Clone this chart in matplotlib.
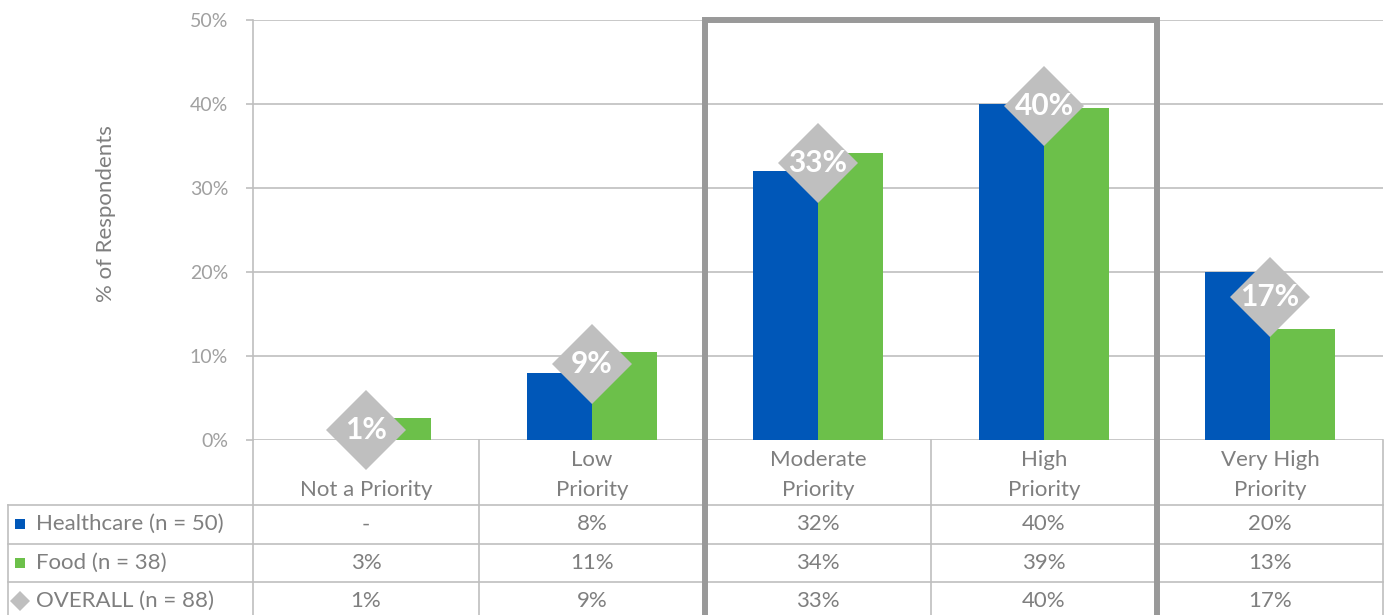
import matplotlib.pyplot as plt
from matplotlib.transforms import blended_transform_factory

plt.rcParams['font.family'] = ['Lato', 'DejaVu Sans']

# Priority levels and shares of respondents (%)
categories = ['Not a Priority', 'Low\nPriority', 'Moderate\nPriority', 'High\nPriority', 'Very High\nPriority']
healthcare = [0.0, 8.0, 32.0, 40.0, 20.0]
food = [2.63, 10.53, 34.21, 39.47, 13.16]
overall = [1.14, 9.09, 32.95, 39.77, 17.05]
series_names = ['Healthcare (n = 50)', 'Food (n = 38)', 'OVERALL (n = 88)']
yticks = [0, 10, 20, 30, 40, 50]

BLUE = '#0057B8'
GREEN = '#6CC04A'
DIAMOND = '#BFBFBF'
LINE = '#BFBFBF'
TEXT = '#7F7F7F'


def pct(v):
    return '-' if v == 0 else f'{v:.0f}%'


fig = plt.figure(figsize=(13.91, 6.15), dpi=100)
ax = fig.add_axes([253 / 1391, 175 / 615, 1130 / 1391, 420 / 615])
ax.set_xlim(-0.5, len(categories) - 0.5)
ax.set_ylim(0, 50)

# bars
w = 0.2876
x = list(range(len(categories)))
ax.bar([i - w / 2 for i in x], healthcare, width=w, color=BLUE, zorder=3)
ax.bar([i + w / 2 for i in x], food, width=w, color=GREEN, zorder=3)

# overall diamonds with their labels
ax.plot(x, overall, linestyle='none', marker='D', markersize=41, color=DIAMOND,
        markeredgewidth=0, zorder=4, clip_on=False)
for i, v in zip(x, overall):
    ax.text(i, v, pct(v), ha='center', va='center', color='white',
            fontsize=21.5, fontweight='bold', zorder=5)

# axes styling
ax.set_yticks(yticks)
ax.set_yticklabels([f'{t}%' for t in yticks])
ax.set_xticks([])
ax.tick_params(axis='y', length=5, width=1.2, color=LINE, labelcolor='#A0A0A0',
               labelsize=14, pad=13)
for s in ['top', 'right', 'bottom']:
    ax.spines[s].set_visible(False)
ax.spines['left'].set_color(LINE)
ax.spines['left'].set_linewidth(1.2)
ax.yaxis.grid(True, color=LINE, linewidth=1.2, zorder=0)
ax.set_axisbelow(True)
ax.set_ylabel('% of Respondents', fontsize=16, color=TEXT)
ax.yaxis.set_label_coords(-0.121, 0.54)

# data table below the plot (x in data units, y in axes fraction)
tr = blended_transform_factory(ax.transData, ax.transAxes)
px = 1 / 420
hdr = 65 * px
row = 38.5 * px
left = -0.5 - 245 / 226
n = len(categories)

def hline(x0, x1, y):
    ax.plot([x0, x1], [y, y], color=LINE, lw=1.2, transform=tr, clip_on=False, zorder=1)

def vline(xv, y0, y1):
    ax.plot([xv, xv], [y0, y1], color=LINE, lw=1.2, transform=tr, clip_on=False, zorder=1)

bottom = -hdr - 3 * row - 10 * px
hline(left, n - 0.5, -hdr)
hline(left, n - 0.5, -hdr - row)
hline(left, n - 0.5, -hdr - 2 * row)
vline(left, -hdr, bottom)
for k in range(n + 1):
    vline(k - 0.5, 0, bottom)

for i, c in enumerate(categories):
    ax.text(i, -hdr + 5 * px, c, transform=tr, ha='center', va='bottom',
            fontsize=16, color=TEXT, linespacing=1.6)

rows = [healthcare, food, overall]
keys = [('s', BLUE, 7.2), ('s', GREEN, 7.2), ('D', DIAMOND, 10)]
for r, (vals, name, (mk, col, ms)) in enumerate(zip(rows, series_names, keys)):
    yc = -hdr - row * (r + 0.5)
    ax.plot([left + 12 / 226], [yc], marker=mk, markersize=ms, color=col,
            markeredgewidth=0, transform=tr, clip_on=False)
    ax.text(left + 28 / 226, yc, name, transform=tr, ha='left', va='center',
            fontsize=16, color=TEXT)
    for i, v in enumerate(vals):
        ax.text(i, yc, pct(v), transform=tr, ha='center', va='center',
                fontsize=16, color=TEXT)

# highlight box around moderate and high priority
ax.plot([1.5, 1.5, 3.5, 3.5], [-1, 1, 1, -1], color='#999999', lw=4.3,
        transform=tr, clip_on=False, zorder=6, solid_joinstyle='miter')

fig.savefig('out.png', dpi=100)
